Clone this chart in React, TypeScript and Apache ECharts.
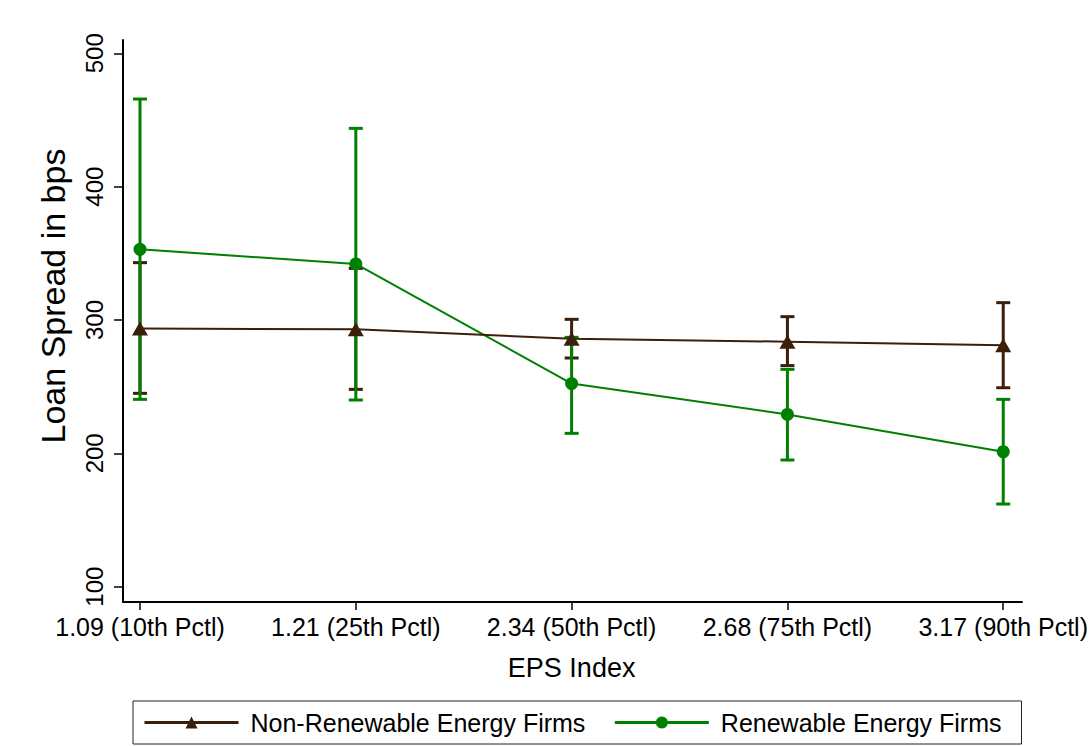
import React, { useEffect, useRef } from "react";
import * as echarts from "echarts";

const categories = [
  "1.09 (10th Pctl)",
  "1.21 (25th Pctl)",
  "2.34 (50th Pctl)",
  "2.68 (75th Pctl)",
  "3.17 (90th Pctl)",
];
const nonRenew = [293.7, 293, 286, 283.7, 281];
const nonRenewLo = [245, 248, 271.5, 265.8, 249.2];
const nonRenewHi = [343, 338.7, 300.5, 302.5, 313];
const renew = [353, 342, 252.3, 229.2, 201.2];
const renewLo = [240.5, 240, 215, 195, 162];
const renewHi = [465.7, 443.7, 287, 263, 240.5];

const BROWN = "#3b1f0a";
const GREEN = "#008000";
const FONT = "'Liberation Sans', Arial, sans-serif";

function ciSeries(name: string, lo: number[], hi: number[], color: string, z: number) {
  return {
    type: "custom",
    name: name + " CI",
    xAxisIndex: 0,
    yAxisIndex: 0,
    z,
    silent: true,
    data: lo.map((l, i) => [i, l, hi[i]]),
    renderItem: (params: any, api: any) => {
      const x = api.value(0);
      const top = api.coord([x, api.value(2)]);
      const bot = api.coord([x, api.value(1)]);
      const hw = 7;
      const style = { stroke: color, lineWidth: 3, fill: "none" };
      return {
        type: "group",
        children: [
          { type: "line", shape: { x1: top[0], y1: top[1], x2: bot[0], y2: bot[1] }, style },
          { type: "line", shape: { x1: top[0] - hw, y1: top[1], x2: top[0] + hw, y2: top[1] }, style },
          { type: "line", shape: { x1: bot[0] - hw, y1: bot[1], x2: bot[0] + hw, y2: bot[1] }, style },
        ],
      };
    },
  };
}

export default function App() {
  const ref = useRef<HTMLDivElement>(null);
  useEffect(() => {
    document.body.style.margin = "0";
    const chart = echarts.init(ref.current!, null, { renderer: "svg" });
    chart.setOption({
      animation: false,
      backgroundColor: "#ffffff",
      textStyle: { fontFamily: FONT },
      grid: [
        { left: 140, right: 84.3, top: 53.3, bottom: 159.3, containLabel: false },
        { left: 123, right: 69, top: 40, bottom: 144, containLabel: false },
      ],
      xAxis: [
        {
          type: "category",
          gridIndex: 0,
          data: categories,
          boundaryGap: false,
          offset: 15.3,
          axisLine: { show: false },
          axisTick: { show: true, length: 8, interval: 0, lineStyle: { color: "#000", width: 1.5 } },
          axisLabel: { fontSize: 25, color: "#000", margin: 12, interval: 0, hideOverlap: false, fontFamily: FONT },
          splitLine: { show: false },
          name: "EPS Index",
          nameLocation: "middle",
          nameGap: 52,
          nameTextStyle: { fontSize: 27, color: "#000", fontFamily: FONT },
        },
        {
          type: "value",
          gridIndex: 1,
          min: 0,
          max: 1,
          axisLine: { show: true, onZero: false, lineStyle: { color: "#000", width: 2 } },
          axisTick: { show: false },
          axisLabel: { show: false },
          splitLine: { show: false },
        },
      ],
      yAxis: [
        {
          type: "value",
          gridIndex: 0,
          min: 100,
          max: 500,
          interval: 100,
          offset: 17,
          axisLine: { show: false },
          axisTick: { show: true, length: 9, lineStyle: { color: "#000", width: 1.5 } },
          axisLabel: { fontSize: 24, color: "#000", rotate: 90, margin: 17, fontFamily: FONT },
          splitLine: { show: false },
          name: "Loan Spread in bps",
          nameLocation: "middle",
          nameGap: 53,
          nameTextStyle: { fontSize: 34, color: "#000", fontFamily: FONT, padding: [0, 0, 0, 48] },
        },
        {
          type: "value",
          gridIndex: 1,
          min: 0,
          max: 1,
          axisLine: { show: true, onZero: false, lineStyle: { color: "#000", width: 2 } },
          axisTick: { show: false },
          axisLabel: { show: false },
          splitLine: { show: false },
        },
      ],
      legend: {
        data: ["Non-Renewable Energy Firms", "Renewable Energy Firms"],
        left: 133,
        top: 701,
        orient: "horizontal",
        itemWidth: 94,
        itemHeight: 15,
        itemGap: 28,
        padding: [9, 20, 9, 10],
        borderColor: "#222",
        borderWidth: 1,
        lineStyle: { width: 3 },
        textStyle: { fontSize: 25, color: "#000", padding: [0, 0, 0, 7], fontFamily: FONT },
      },
      series: [
        ciSeries("Non-Renewable Energy Firms", nonRenewLo, nonRenewHi, BROWN, 1),
        ciSeries("Renewable Energy Firms", renewLo, renewHi, GREEN, 2),
        {
          type: "line",
          name: "Renewable Energy Firms",
          xAxisIndex: 0,
          yAxisIndex: 0,
          data: renew,
          z: 3,
          symbol: "circle",
          symbolSize: 13,
          showAllSymbol: true,
          color: GREEN,
          itemStyle: { color: GREEN },
          lineStyle: { color: GREEN, width: 2 },
        },
        {
          type: "line",
          name: "Non-Renewable Energy Firms",
          xAxisIndex: 0,
          yAxisIndex: 0,
          data: nonRenew,
          z: 4,
          symbol: "triangle",
          symbolSize: [16, 14],
          showAllSymbol: true,
          color: BROWN,
          itemStyle: { color: BROWN },
          lineStyle: { color: BROWN, width: 2 },
        },
      ],
    });
    return () => chart.dispose();
  }, []);
  return (
    <div
      ref={ref}
      style={{ position: "absolute", left: 0, top: 0, width: 1091, height: 746 }}
    />
  );
}
